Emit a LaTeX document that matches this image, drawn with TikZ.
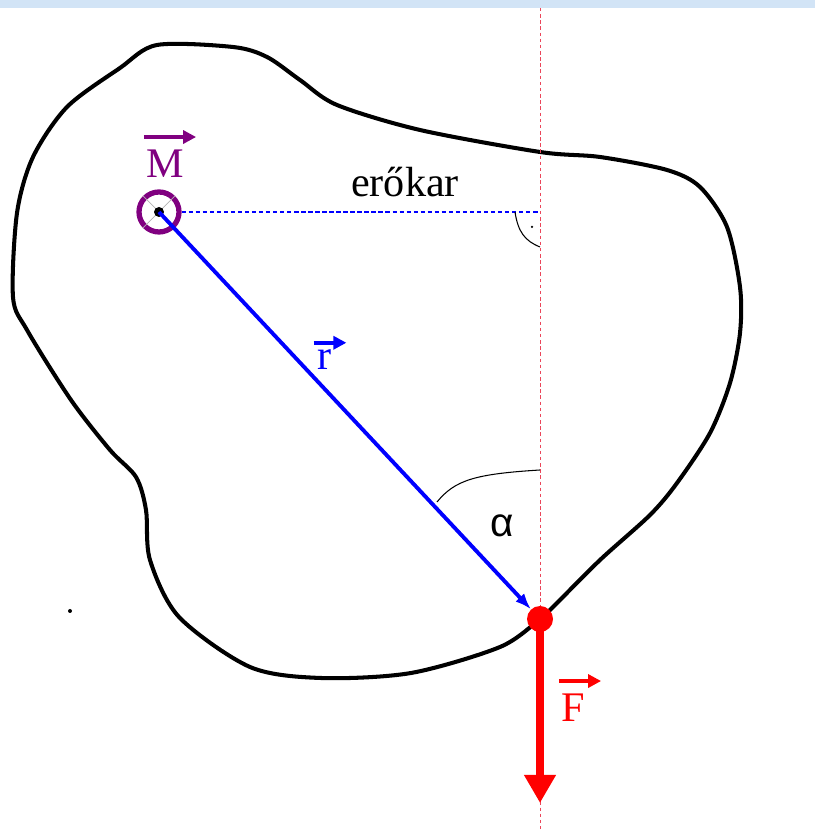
\documentclass[tikz,border=0pt]{standalone}
\usepackage{fontspec}
\setmainfont{Liberation Serif}
\newfontfamily\greekfont{Liberation Sans}
\usepackage{xcolor}
\definecolor{mkpurple}{RGB}{128,0,128}
\definecolor{mkblue}{RGB}{0,0,255}
\definecolor{mkred}{RGB}{255,0,0}
\definecolor{mkpink}{RGB}{235,70,90}
\definecolor{mkbanner}{RGB}{210,228,246}
\usepackage{tikz}
\usetikzlibrary{arrows.meta}
\tikzset{
  veclabel/.style={font=\fontsize{24}{28}\selectfont, anchor=base, inner sep=0pt},
  vecarrow/.style={line width=2pt, -{Triangle[length=0.26cm,width=0.26cm]}}
}

\begin{document}
\begin{tikzpicture}
  % Frame and top band
  \useasboundingbox (0,0) rectangle (16.3,16.58);
  \fill[mkbanner] (0,16.42) rectangle (16.3,16.58);

  % Body outline
  \draw[line width=2.3pt, line join=round] plot[smooth cycle, tension=0.5] coordinates {
    (3.14,15.68) (4.66,15.64) (5.34,15.44) (6.0,14.98) (6.74,14.48) (8.4,13.98)
    (10.8,13.54) (12.0,13.44) (13.34,13.18) (14.0,12.84) (14.54,12.04) (14.8,10.84)
    (14.8,9.92) (14.6,8.92) (14.2,7.92) (13.54,6.92) (13.0,6.28) (12.0,5.38)
    (11.06,4.44) (10.8,4.2) (10.0,3.64) (8.22,3.12) (6.42,3.02) (5.0,3.24)
    (3.58,4.24) (3.0,5.38) (2.92,6.38) (2.72,7.04) (2.2,7.58) (1.42,8.58)
    (0.54,9.98) (0.26,10.64) (0.34,12.32) (0.66,13.44) (1.34,14.44) (2.4,15.22)};
  \fill (1.4,4.36) circle (0.04);

  % Line of action
  \coordinate (lineTop) at (10.8,16.42);
  \coordinate (lineBot) at (10.8,0);
  \draw[mkpink, line width=0.5pt, dash pattern=on 2pt off 1.5pt] (lineTop) -- (lineBot);

  % Pivot and point of action
  \node[circle, draw=mkpurple, line width=3pt, minimum size=0.8cm, inner sep=0pt] (pivot) at (3.18,12.34) {};
  \draw[gray!60, thin] (pivot.45) -- (pivot.225) (pivot.135) -- (pivot.315);
  \fill (pivot.center) circle (0.1);
  \node[circle, fill=mkred, minimum size=0.52cm, inner sep=0pt] (point) at (10.8,4.2) {};

  % Lever arm
  \coordinate (foot) at (10.8,12.34);
  \draw[mkblue, line width=0.6pt, dash pattern=on 2.5pt off 1.5pt] (pivot) -- (foot);
  \node[veclabel] (armlabel) at (8.1,12.64) {erőkar};
  \draw[line width=0.6pt] (10.3,12.34) .. controls (10.36,11.94) and (10.5,11.76) .. (10.8,11.64);
  \fill (10.64,12.04) circle (0.025);

  % Position vector
  \draw[mkblue, line width=2.2pt, -{Latex[length=0.32cm,width=0.24cm]}] (pivot.center) -- (point);
  \node[veclabel, mkblue] (rlabel) at (6.5,9.18) {r};
  \draw[vecarrow, mkblue] ([shift={(-0.08,0.14)}]rlabel.north west) -- ([shift={(0.28,0.14)}]rlabel.north east);

  % Angle
  \draw[line width=0.6pt] (8.74,6.54) .. controls (9.1,6.98) and (9.5,7.1) .. (10.8,7.18);
  \node[veclabel, font=\greekfont\fontsize{23}{28}\selectfont] (alphalabel) at (10.04,5.84) {α};

  % Force
  \coordinate (forceEnd) at (10.8,0.52);
  \draw[mkred, line width=4.5pt, -{Triangle[length=0.56cm,width=0.6cm]}] (point.center) -- (forceEnd);
  \node[veclabel, mkred] (flabel) at (11.46,2.14) {F};
  \draw[vecarrow, mkred] ([shift={(-0.04,0.26)}]flabel.north west) -- ([shift={(0.32,0.26)}]flabel.north east);

  % Torque
  \node[veclabel, mkpurple] (mlabel) at (3.3,13.02) {M};
  \draw[vecarrow, mkpurple] ([shift={(-0.04,0.26)}]mlabel.north west) -- ([shift={(0.24,0.26)}]mlabel.north east);
\end{tikzpicture}
\end{document}
